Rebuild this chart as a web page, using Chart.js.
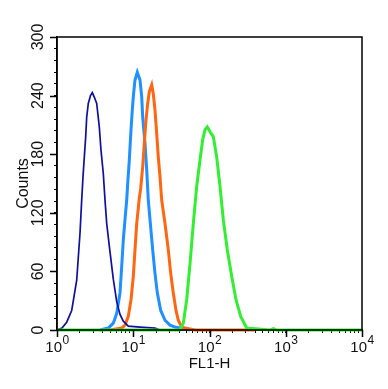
<!doctype html>
<html lang="en">
<head>
<meta charset="UTF-8" />
<title>FL1-H histogram</title>
<script src="https://cdn.jsdelivr.net/npm/chart.js"></script>
<style>
  html, body { margin: 0; padding: 0; background: #fff; }
  #wrap { width: 388px; height: 389px; }
</style>
</head>
<body>
<div id="wrap"><canvas id="histo"></canvas></div>
<script>
// FL1-H values and counts
const navyX = [1, 1.163, 1.34, 1.559, 1.813, 2.003, 2.108, 2.193, 2.281, 2.379, 2.452, 2.573, 2.75, 2.904, 3.102, 3.316, 3.587, 3.776, 4.049, 4.262, 4.485, 4.956, 5.475, 6.067, 6.704, 7.404, 8.613, 12.26, 19.28, 22.43]
const navyY = [0, 2, 8, 20, 51, 99, 133, 157, 177, 198, 218, 232, 240, 243, 238, 232, 208, 184, 160, 133, 109, 80, 52, 29, 16, 9, 4, 3, 2, 0]

const blueX = [3.664, 4.708, 5.475, 6.067, 6.704, 7.055, 7.404, 7.795, 8.207, 8.458, 8.877, 9.343, 9.716, 10.02, 10.54, 11.3, 12.26, 12.91, 13.3, 14.26, 15.01, 15.75, 16.59, 17.99, 19.28, 20.68, 22.91, 26.09, 30.34, 35.28, 41.03, 55.51]
const blueY = [0, 2, 7, 17, 38, 65, 92, 113, 133, 150, 174, 205, 225, 239, 256, 264, 256, 239, 218, 191, 164, 133, 113, 82, 58, 38, 20, 10, 5, 3, 2, 0]

const orangeX = [4.956, 7.055, 7.795, 8.613, 9.343, 10.02, 10.54, 11.1, 11.65, 12.0, 12.52, 13.3, 13.96, 14.7, 15.47, 16.24, 17.46, 18.32, 19.28, 20.3, 21.31, 22.43, 23.61, 26.09, 28.83, 30.99, 33.51, 36.37, 38.97, 43.19, 47.72, 64.55, 400]
const orangeY = [0, 2, 5, 14, 31, 55, 82, 109, 125, 135, 145, 167, 191, 215, 232, 244, 251, 242, 225, 201, 177, 157, 133, 109, 82, 58, 38, 20, 10, 3, 2, 0, 0]

const greenX = [1, 41.03, 45.34, 50.23, 55.51, 61.32, 67.95, 75.07, 81.43, 87.3, 93.57, 101.5, 112.2, 124.3, 137.3, 151.7, 171.2, 195.5, 222.6, 256.6, 307.5, 620, 690, 760, 10000]
const greenY = [0, 0, 7, 31, 68, 109, 147, 174, 195, 205, 208, 203, 198, 177, 147, 113, 82, 55, 31, 14, 2, 0, 1.5, 0, 0]

const xExps = [0, 1, 2, 3, 4]
const yLabels = [0, 60, 120, 180, 240, 300]

const FONT = '"Liberation Sans", Arial, Helvetica, sans-serif'
const pts = (xs, ys) => xs.map((x, i) => ({ x, y: ys[i] }))

function line(data, color, width) {
    return {
        data,
        borderColor: color,
        borderWidth: width,
        pointRadius: 0,
        showLine: true,
        tension: 0,
        fill: false,
        clip: { left: 0, top: 0, right: 0, bottom: 3 },
    }
}

// frame, long ticks and the tick labels (rotated on y, 10^n on x)
const decorate = {
    id: 'decorate',
    afterDatasetsDraw(chart) {
        const { ctx, chartArea: a, scales: { x, y } } = chart
        ctx.save()
        ctx.strokeStyle = '#000'
        ctx.lineWidth = 1.5
        ctx.strokeRect(a.left, a.top, a.right - a.left, a.bottom - a.top)
        ctx.beginPath()
        xExps.forEach(e => {
            const px = Math.round(x.getPixelForValue(10 ** e)) + 0.5
            ctx.moveTo(px, a.bottom)
            ctx.lineTo(px, a.bottom + 7)
        })
        yLabels.forEach(v => {
            const py = Math.round(y.getPixelForValue(v)) + 0.5
            ctx.moveTo(a.left, py)
            ctx.lineTo(a.left - 7, py)
        })
        ctx.stroke()
        ctx.restore()
    },
    afterDraw(chart) {
        const { ctx, chartArea: a, scales: { x, y } } = chart
        ctx.save()
        ctx.fillStyle = '#111'
        ctx.textBaseline = 'alphabetic'
        ctx.textAlign = 'left'
        const base = '15px ' + FONT
        const sup = '12px ' + FONT
        xExps.forEach(e => {
            const px = x.getPixelForValue(10 ** e)
            ctx.font = base
            const wb = ctx.measureText('10').width
            ctx.font = sup
            const ws = ctx.measureText(String(e)).width
            const left = px - (wb + ws) / 2
            ctx.font = base
            ctx.fillText('10', left, a.bottom + 22)
            ctx.font = sup
            ctx.fillText(String(e), left + wb + 0.5, a.bottom + 14)
        })
        ctx.font = '16px ' + FONT
        ctx.textAlign = 'center'
        ctx.textBaseline = 'middle'
        yLabels.forEach(v => {
            const py = y.getPixelForValue(v)
            ctx.save()
            ctx.translate(a.left - 18, py)
            ctx.rotate(-Math.PI / 2)
            ctx.fillText(String(v), 0, 0)
            ctx.restore()
        })
        ctx.restore()
    },
}

const minorX = []
for (const e of [0, 1, 2, 3]) for (const m of [1, 2, 3, 4, 5, 6, 7, 8, 9]) minorX.push(m * 10 ** e)
minorX.push(10000)

new Chart(document.getElementById('histo'), {
    type: 'scatter',
    data: {
        datasets: [
            line(pts(greenX, greenY), '#33ee33', 3),
            line(pts(navyX, navyY), '#1010a0', 1.7),
            line(pts(orangeX, orangeY), '#ff6611', 3),
            line(pts(blueX, blueY), '#1e90ff', 3),
        ],
    },
    options: {
        responsive: true,
        maintainAspectRatio: false,
        animation: false,
        layout: { padding: { top: 37, right: 26, left: 0, bottom: 0 } },
        plugins: { legend: { display: false }, tooltip: { enabled: false } },
        scales: {
            x: {
                type: 'logarithmic',
                min: 1,
                max: 10000,
                afterBuildTicks: s => { s.ticks = minorX.map(v => ({ value: v })) },
                afterFit: s => { s.height = 59 },
                ticks: { display: false },
                grid: { drawOnChartArea: false, drawTicks: true, tickLength: 3, color: '#000', lineWidth: 1 },
                border: { display: true, color: '#000', width: 1.5 },
                title: {
                    display: true,
                    text: 'FL1-H',
                    color: '#111',
                    font: { family: FONT, size: 15 },
                    padding: { top: 0, bottom: 16 },
                },
            },
            y: {
                min: 0,
                max: 300,
                ticks: { display: false, stepSize: 12 },
                afterFit: s => { s.width = 57 },
                grid: { drawOnChartArea: false, drawTicks: true, tickLength: 3, color: '#000', lineWidth: 1 },
                border: { display: true, color: '#000', width: 1.5 },
                title: {
                    display: true,
                    text: 'Counts',
                    color: '#111',
                    font: { family: FONT, size: 16 },
                    padding: { top: 14, bottom: 0 },
                },
            },
        },
    },
    plugins: [decorate],
})
</script>
</body>
</html>
